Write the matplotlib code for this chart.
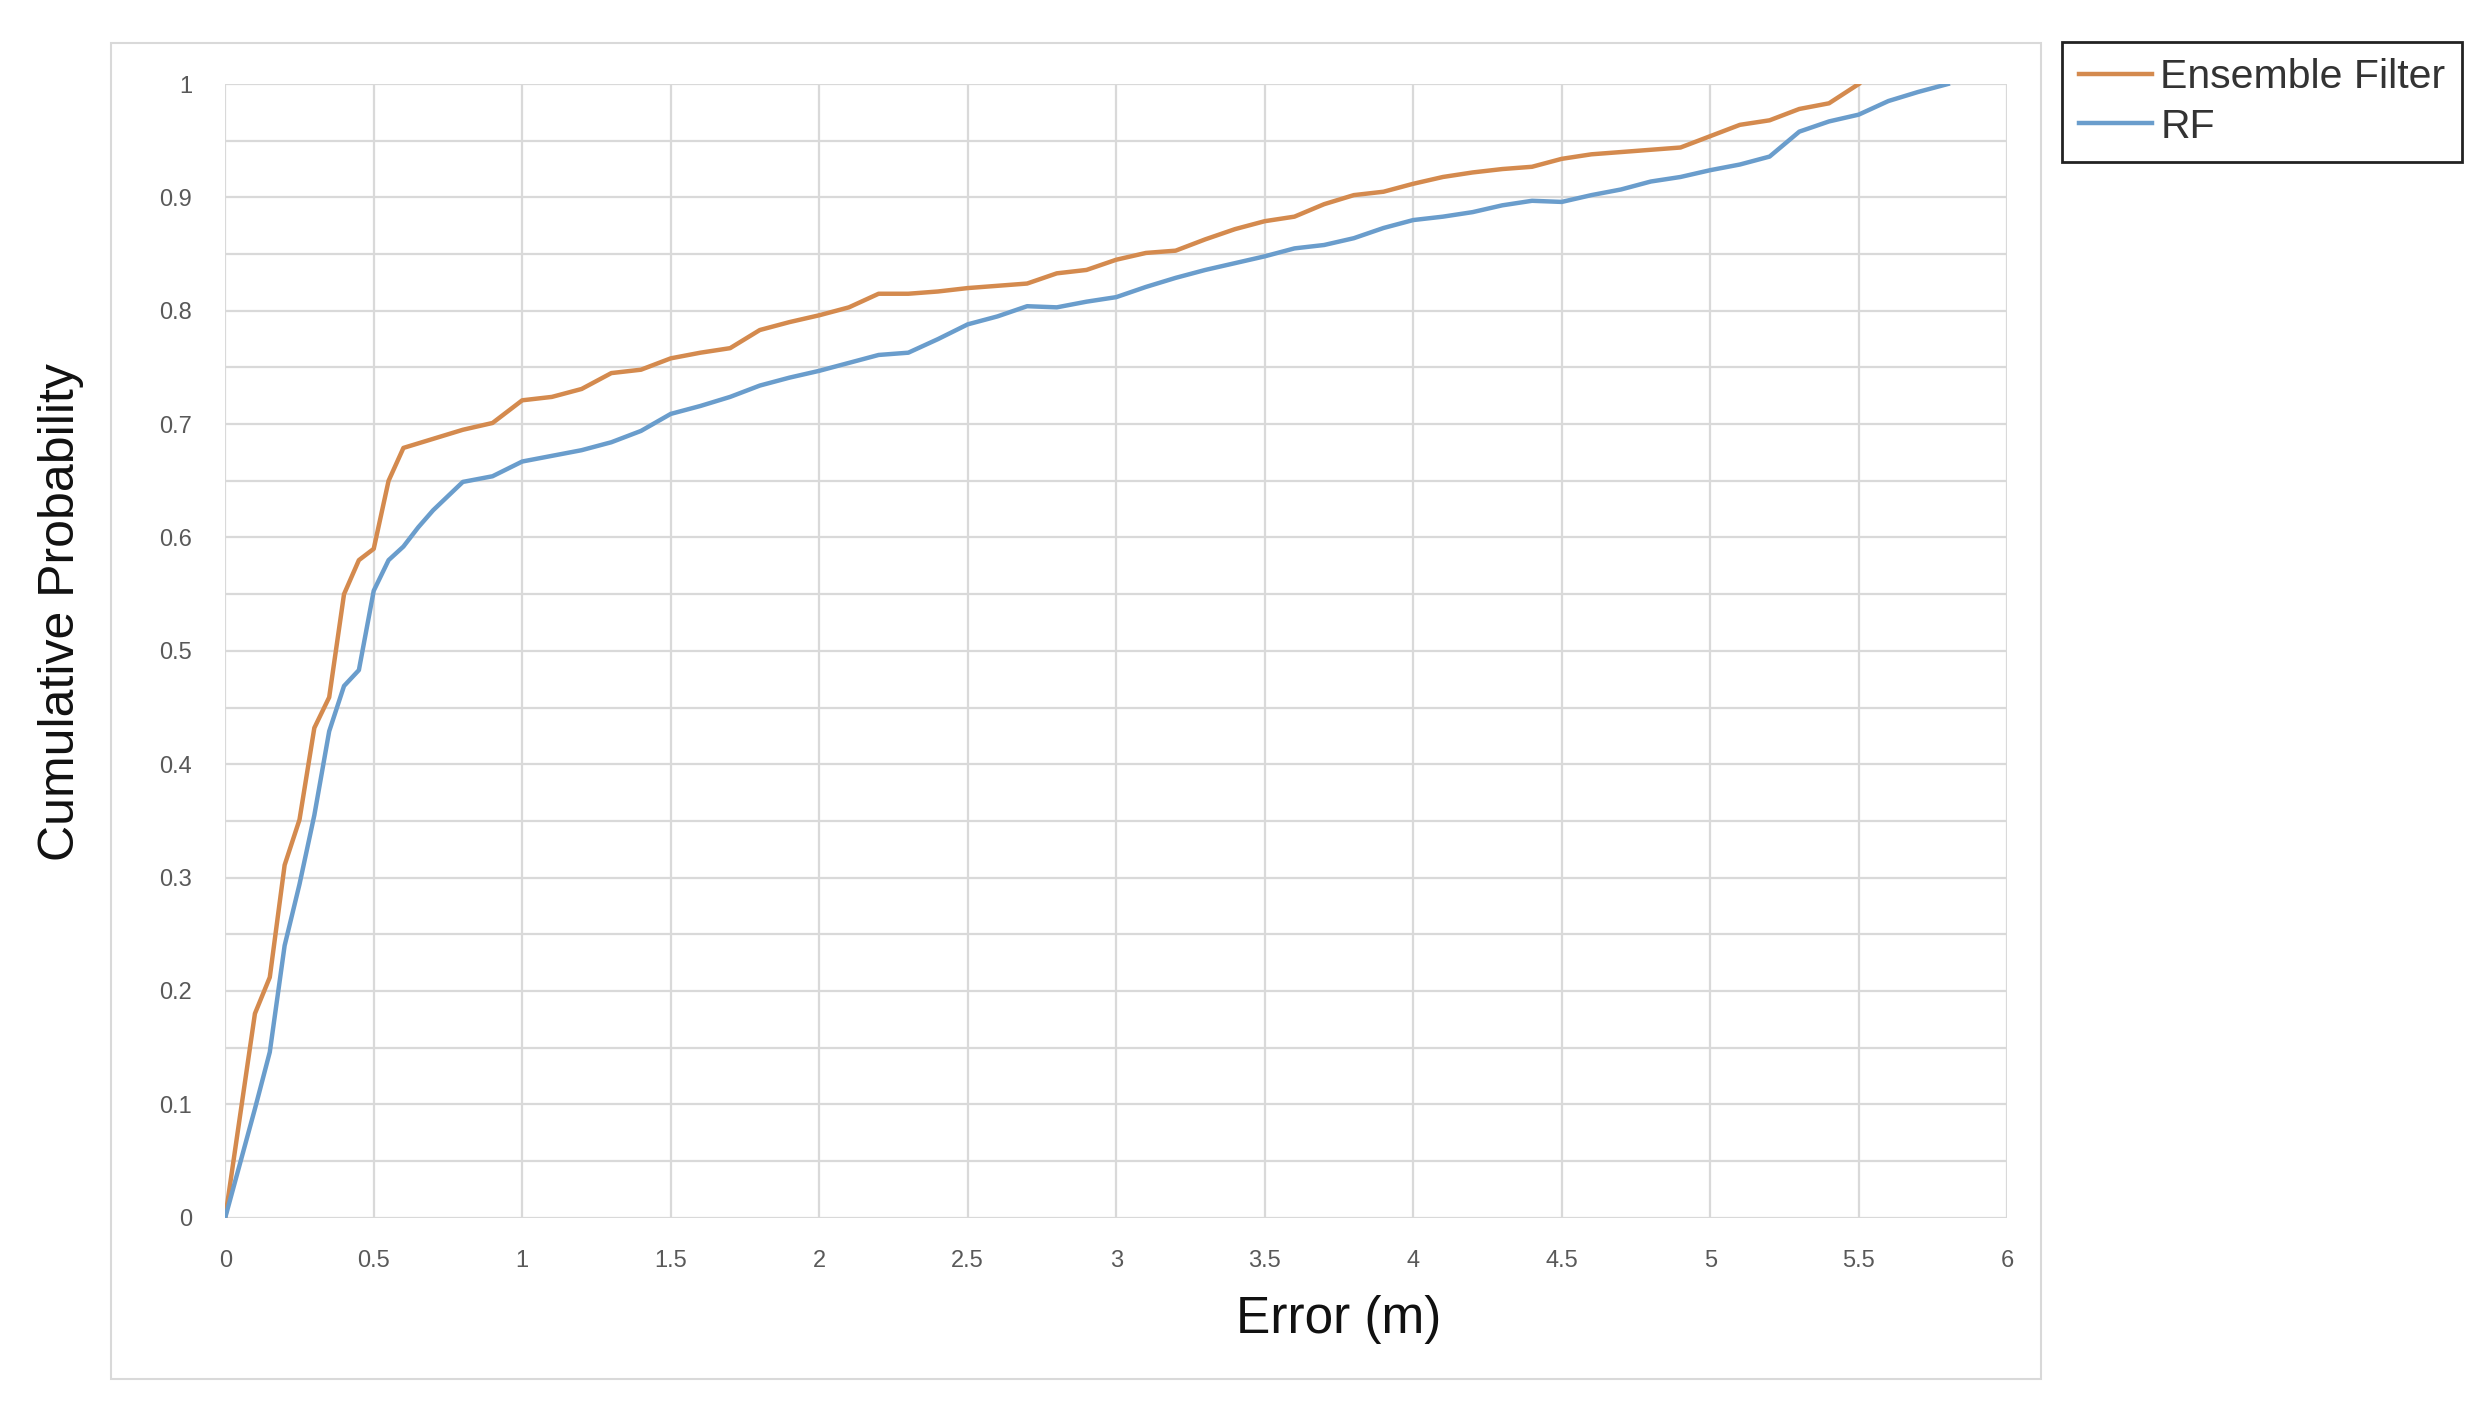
import matplotlib
matplotlib.use("Agg")
import matplotlib.pyplot as plt
from matplotlib.patches import Rectangle

# Error (m) vs cumulative probability
ens_error = [0, 0.1, 0.15, 0.2, 0.25, 0.3, 0.35, 0.4, 0.45, 0.5, 0.55, 0.6,
             0.7, 0.8, 0.9, 1.0, 1.1, 1.2, 1.3, 1.4, 1.5, 1.6, 1.7, 1.8, 1.9,
             2.0, 2.1, 2.2, 2.3, 2.4, 2.5, 2.6, 2.7, 2.8, 2.9, 3.0, 3.1, 3.2,
             3.3, 3.4, 3.5, 3.6, 3.7, 3.8, 3.9, 4.0, 4.1, 4.2, 4.3, 4.4, 4.5,
             4.6, 4.7, 4.8, 4.9, 5.0, 5.1, 5.2, 5.3, 5.4, 5.5]
ens_prob = [0, 0.18, 0.212, 0.311, 0.351, 0.432, 0.459, 0.55, 0.58, 0.59, 0.65, 0.679,
            0.687, 0.695, 0.701, 0.721, 0.724, 0.731, 0.745, 0.748, 0.758, 0.763, 0.767, 0.783, 0.79,
            0.796, 0.803, 0.815, 0.815, 0.817, 0.82, 0.822, 0.824, 0.833, 0.836, 0.845, 0.851, 0.853,
            0.863, 0.872, 0.879, 0.883, 0.894, 0.902, 0.905, 0.912, 0.918, 0.922, 0.925, 0.927, 0.934,
            0.938, 0.94, 0.942, 0.944, 0.954, 0.964, 0.968, 0.978, 0.983, 1.0]

rf_error = [0, 0.1, 0.15, 0.2, 0.25, 0.3, 0.35, 0.4, 0.45, 0.5, 0.55, 0.6, 0.65,
            0.7, 0.8, 0.9, 1.0, 1.1, 1.2, 1.3, 1.4, 1.5, 1.6, 1.7, 1.8, 1.9,
            2.0, 2.1, 2.2, 2.3, 2.4, 2.5, 2.6, 2.7, 2.8, 2.9, 3.0, 3.1, 3.2,
            3.3, 3.4, 3.5, 3.6, 3.7, 3.8, 3.9, 4.0, 4.1, 4.2, 4.3, 4.4, 4.5,
            4.6, 4.7, 4.8, 4.9, 5.0, 5.1, 5.2, 5.3, 5.4, 5.5, 5.6, 5.7, 5.8]
rf_prob = [0, 0.096, 0.146, 0.24, 0.294, 0.355, 0.429, 0.469, 0.483, 0.553, 0.58, 0.592, 0.609,
           0.624, 0.649, 0.654, 0.667, 0.672, 0.677, 0.684, 0.694, 0.709, 0.716, 0.724, 0.734, 0.741,
           0.747, 0.754, 0.761, 0.763, 0.775, 0.788, 0.795, 0.804, 0.803, 0.808, 0.812, 0.821, 0.829,
           0.836, 0.842, 0.848, 0.855, 0.858, 0.864, 0.873, 0.88, 0.883, 0.887, 0.893, 0.897, 0.896,
           0.902, 0.907, 0.914, 0.918, 0.924, 0.929, 0.936, 0.958, 0.967, 0.973, 0.985, 0.993, 1.0]

x_ticks = [0, 0.5, 1, 1.5, 2, 2.5, 3, 3.5, 4, 4.5, 5, 5.5, 6]
x_labels = ["0", "0.5", "1", "1.5", "2", "2.5", "3", "3.5", "4", "4.5", "5", "5.5", "6"]
y_ticks = [0, 0.1, 0.2, 0.3, 0.4, 0.5, 0.6, 0.7, 0.8, 0.9, 1]
y_labels = ["0", "0.1", "0.2", "0.3", "0.4", "0.5", "0.6", "0.7", "0.8", "0.9", "1"]

plt.rcParams["font.family"] = ["Liberation Sans", "DejaVu Sans"]

fig = plt.figure(figsize=(24.86, 14.17), dpi=100)
ax = fig.add_axes([0.0906, 0.1407, 0.7168, 0.8000])

# outer chart frame
fig.patches.append(Rectangle((0.0446, 0.0268), 0.7762, 0.9432, transform=fig.transFigure,
                             fill=False, edgecolor="#d9d9d9", linewidth=1.5))

ax.plot(ens_error, ens_prob, color="#d48a4e", linewidth=3.2, label="Ensemble Filter", zorder=3)
ax.plot(rf_error, rf_prob, color="#6a9dcc", linewidth=3.2, label="RF", zorder=3)

ax.set_xlim(0, 6)
ax.set_ylim(0, 1)
ax.set_xticks(x_ticks)
ax.set_xticklabels(x_labels)
ax.set_yticks(y_ticks)
ax.set_yticklabels(y_labels)
ax.set_yticks([v + 0.05 for v in y_ticks[:-1]], minor=True)
ax.tick_params(which="both", length=0)
ax.tick_params(axis="x", pad=23, labelsize=17, labelcolor="#595959")
ax.tick_params(axis="y", pad=24, labelsize=17, labelcolor="#595959")

ax.grid(True, which="major", color="#d9d9d9", linewidth=1.6, zorder=0)
ax.grid(True, which="minor", axis="y", color="#d9d9d9", linewidth=1.6, zorder=0)
ax.set_axisbelow(True)
for s in ax.spines.values():
    s.set_visible(False)

ax.set_xlabel("Error (m)", fontsize=37, color="#111111")
ax.xaxis.set_label_coords(0.625, -0.068)
ax.set_ylabel("Cumulative Probability", fontsize=36, color="#111111")
ax.yaxis.set_label_coords(-0.079, 0.534)

leg = fig.legend(loc="upper left", bbox_to_anchor=(0.8295, 0.9705), frameon=True,
                 fancybox=False, edgecolor="#222222", framealpha=1,
                 prop={"size": 29.5}, handlelength=1.8, handletextpad=0.2,
                 borderpad=0.4, labelspacing=0.28, borderaxespad=0)
leg.get_frame().set_linewidth(2)
for t in leg.get_texts():
    t.set_color("#333333")
for h in leg.get_lines():
    h.set_linewidth(3.2)

fig.savefig("out.png", dpi=100, facecolor="white")
